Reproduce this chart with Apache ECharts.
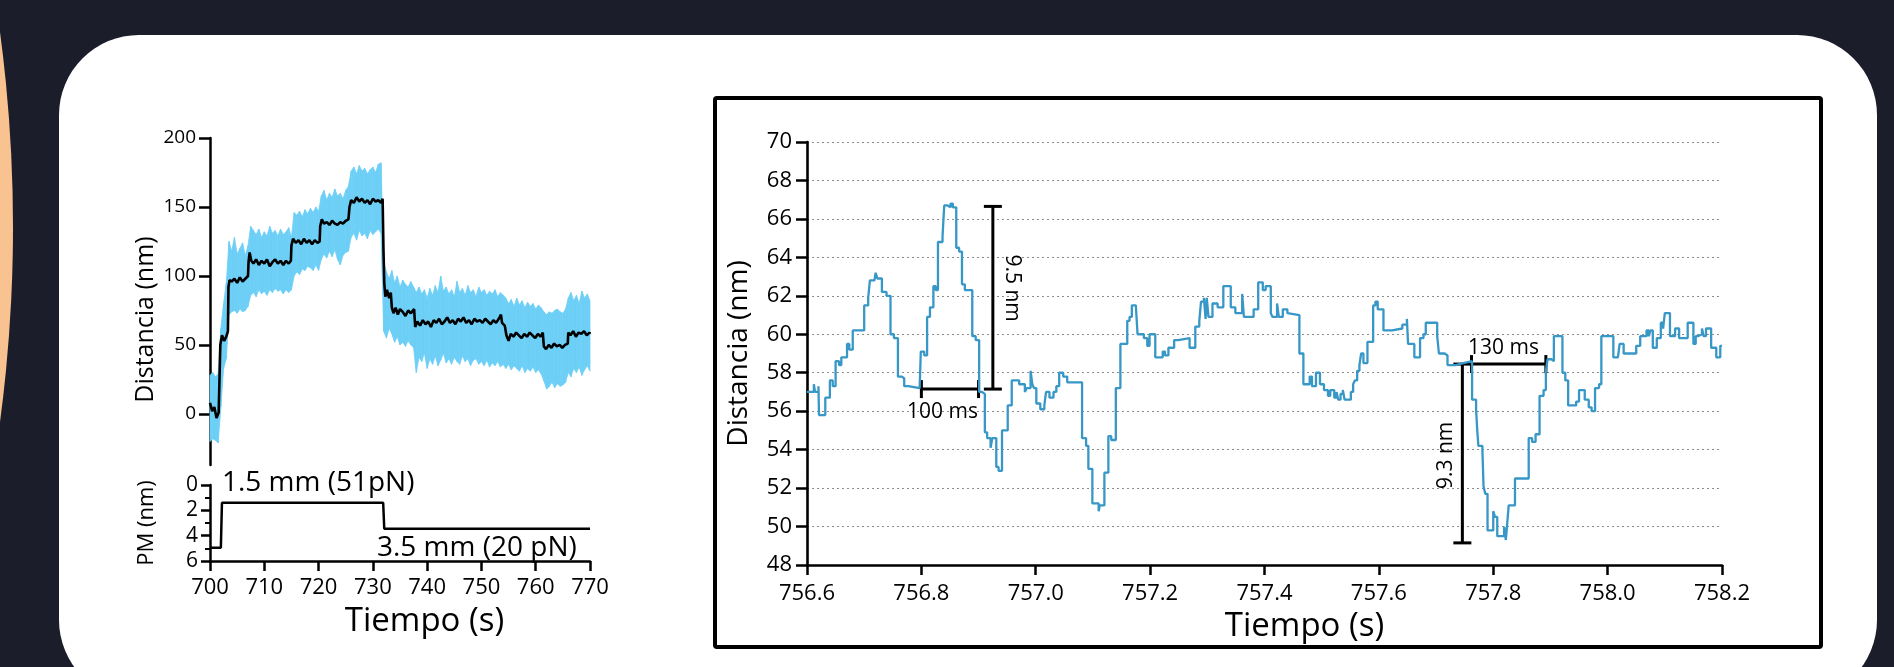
<!DOCTYPE html>
<html>
<head>
<meta charset="utf-8">
<script src="https://cdn.jsdelivr.net/npm/echarts@6/dist/echarts.min.js"></script>
<style>
  html, body { margin: 0; padding: 0; width: 1894px; height: 667px; overflow: hidden; background: #1b1e2a; }
  #glow { position: absolute; left: -2925px; top: -1242px; width: 2938px; height: 2938px; border-radius: 50%; background: #f8c291; }
  #card { position: absolute; left: 59px; top: 35px; width: 1818px; height: 665px; border-radius: 80px; background: #ffffff; }
  #chart { position: absolute; left: 0; top: 0; width: 1894px; height: 667px; }
</style>
</head>
<body>
<div id="glow"></div>
<div id="card"></div>
<div id="chart"></div>
<script>
// ---------- Overview trace (700–770 s) ----------
// Raw signal envelope (light blue band)
const bandTime = [
  700, 700.5, 701, 701.5, 702, 702.5, 703, 703.5, 704, 704.5, 705, 705.5, 706, 706.5, 707, 707.5,
  708, 708.5, 709, 709.5, 710, 710.5, 711, 711.5, 712, 712.5, 713, 713.5, 714, 714.5, 715, 715.5,
  716, 716.5, 717, 717.5, 718, 718.5, 719, 719.5, 720, 720.5, 721, 721.5, 722, 722.5, 723, 723.5,
  724, 724.5, 725, 725.5, 726, 726.5, 727, 727.5, 728, 728.5, 729, 729.5, 730, 730.5, 731, 731.5,
  732, 732.5, 733, 733.5, 734, 734.5, 735, 735.5, 736, 736.5, 737, 737.5, 738, 738.5, 739, 739.5,
  740, 740.5, 741, 741.5, 742, 742.5, 743, 743.5, 744, 744.5, 745, 745.5, 746, 746.5, 747, 747.5,
  748, 748.5, 749, 749.5, 750, 750.5, 751, 751.5, 752, 752.5, 753, 753.5, 754, 754.5, 755, 755.5,
  756, 756.5, 757, 757.5, 758, 758.5, 759, 759.5, 760, 760.5, 761, 761.5, 762, 762.5, 763, 763.5,
  764, 764.5, 765, 765.5, 766, 766.5, 767, 767.5, 768, 768.5, 769, 769.5, 770
];
const bandUpper = [
  28, 30, 27, 29, 62, 80, 95, 125, 118, 128, 116, 120, 124, 115, 122, 136,
  133, 130, 134, 128, 132, 129, 136, 131, 133, 129, 134, 130, 132, 135, 128, 146,
  144, 147, 143, 148, 145, 149, 146, 150, 147, 158, 162, 155, 160, 157, 163, 158,
  160, 156, 162, 165, 176, 179, 174, 180, 176, 178, 174, 177, 179, 175, 181, 182,
  110, 103, 98, 104, 95, 100, 92, 97, 94, 92, 96, 92, 88, 92, 87, 90,
  84, 91, 86, 93, 88, 100, 89, 92, 87, 90, 85, 96, 88, 91, 86, 93,
  88, 90, 85, 92, 88, 90, 86, 89, 87, 90, 85, 88, 86, 84, 80, 83,
  78, 84, 79, 82, 77, 81, 78, 80, 76, 79, 77, 74, 72, 74, 73, 75,
  76, 74, 73, 76, 84, 88, 82, 86, 80, 89, 84, 87, 82
];
const bandLower = [
  -20, -18, -19, -21, 5, 33, 40, 72, 74, 75, 73, 76, 74, 75, 78, 86,
  88, 85, 90, 87, 89, 86, 90, 88, 91, 89, 90, 87, 90, 88, 90, 100,
  103, 101, 105, 104, 107, 106, 104, 108, 104, 112, 116, 113, 118, 114, 119, 112,
  108, 115, 117, 118, 128, 131, 126, 133, 129, 131, 127, 133, 130, 132, 134, 131,
  60, 55, 62, 58, 52, 56, 50, 52, 49, 53, 50, 48, 30, 41, 38, 44,
  33, 40, 36, 42, 35, 39, 44, 37, 40, 36, 41, 38, 36, 42, 38, 40,
  35, 39, 40, 36, 38, 35, 39, 34, 37, 35, 38, 34, 36, 33, 36, 32,
  35, 33, 31, 35, 30, 33, 31, 34, 30, 32, 29, 24, 18, 20, 23, 19,
  22, 20, 21, 23, 30, 27, 33, 30, 34, 28, 32, 35, 31
];

// Filtered distance (black trace)
const meanTime = [
  700.0, 700.4, 700.8, 701.2, 701.6, 701.8, 701.9, 702.2, 702.6, 703.0, 703.3, 703.4, 703.6, 704.0, 704.5, 705.0,
  705.5, 706.0, 706.5, 707.0, 707.1, 707.3, 707.6, 708.0, 708.5, 709.0, 709.5, 710.0, 710.5, 711.0, 711.5, 712.0,
  712.5, 713.0, 713.5, 714.0, 714.5, 714.9, 715.0, 715.3, 715.8, 716.3, 716.8, 717.3, 717.8, 718.3, 718.8, 719.3,
  719.8, 720.2, 720.3, 720.6, 721.0, 721.5, 722.0, 722.5, 723.0, 723.5, 724.0, 724.5, 725.0, 725.5, 725.7, 726.0,
  726.5, 727.0, 727.5, 728.0, 728.5, 729.0, 729.5, 730.0, 730.5, 731.0, 731.5, 731.8, 731.95, 732.1, 732.3, 732.6,
  733.0, 733.3, 733.5, 733.8, 734.2, 734.6, 735.0, 735.5, 736.0, 736.5, 737.0, 737.6, 737.8, 738.2, 738.7, 739.2,
  739.7, 740.2, 740.7, 741.2, 741.7, 742.2, 742.7, 743.2, 743.7, 744.2, 744.7, 745.2, 745.7, 746.2, 746.7, 747.2,
  747.7, 748.2, 748.7, 749.2, 749.7, 750.2, 750.7, 751.2, 751.7, 752.2, 752.7, 753.2, 753.6, 753.8, 754.3, 754.6,
  755.0, 755.4, 755.9, 756.4, 756.9, 757.4, 757.9, 758.4, 758.9, 759.4, 759.9, 760.4, 760.9, 761.3, 761.5, 761.9,
  762.4, 762.9, 763.4, 763.9, 764.4, 764.9, 765.4, 765.9, 766.0, 766.4, 766.9, 767.4, 767.9, 768.4, 768.9, 769.4,
  769.9, 770.0
];
const meanValue = [
  8, 2, 5, -3, 1, 2, 50, 57, 53, 56, 60, 92, 97, 96, 98, 95,
  99, 96, 98, 100, 110, 117, 111, 109, 112, 108, 111, 109, 112, 107, 110, 112,
  109, 111, 108, 111, 109, 111, 122, 127, 124, 126, 123, 127, 124, 126, 123, 126,
  124, 125, 136, 141, 138, 139, 137, 140, 138, 137, 139, 138, 140, 141, 150, 155,
  153, 157, 154, 156, 153, 155, 152, 156, 154, 155, 153, 156, 120, 95, 85, 90,
  84, 88, 77, 73, 77, 72, 76, 74, 71, 75, 73, 76, 63, 67, 64, 68,
  65, 67, 63, 68, 66, 69, 65, 67, 70, 66, 68, 65, 69, 67, 70, 66,
  68, 65, 69, 67, 68, 66, 69, 67, 65, 68, 66, 69, 72, 66, 64, 57,
  53, 58, 56, 59, 57, 55, 58, 56, 59, 57, 55, 58, 56, 59, 49, 47,
  50, 48, 51, 49, 50, 48, 50, 51, 59, 57, 60, 56, 59, 58, 60, 57,
  59, 58
];

// Magnet position trace
const pmTime = [700, 702.0, 702.2, 731.9, 732.1, 770];
const pmValue = [4.95, 4.95, 1.4, 1.4, 3.45, 3.45];
const pmNotes = [
  { t: 702.2, v: -0.15, text: '1.5 mm (51pN)' },
  { t: 730.75, v: 4.95, text: '3.5 mm (20 pN)' }
];

// Upper panel tick values
const overviewTicks = [0, 50, 100, 150, 200];

// ---------- Zoomed trace (756.6–758.2 s) ----------
const detailTime = [
  756.600, 756.612, 756.614, 756.620, 756.621, 756.632, 756.640, 756.645, 756.650, 756.656, 756.660, 756.670, 756.674, 756.680, 756.700, 756.707,
  756.710, 756.718, 756.720, 756.723, 756.731, 756.739, 756.746, 756.752, 756.759, 756.766, 756.770, 756.777, 756.797, 756.799, 756.805, 756.810,
  756.815, 756.821, 756.825, 756.829, 756.837, 756.840, 756.846, 756.851, 756.855, 756.861, 756.866, 756.871, 756.876, 756.889, 756.895, 756.901,
  756.906, 756.911, 756.915, 756.921, 756.924, 756.931, 756.935, 756.941, 756.951, 756.958, 756.971, 756.981, 756.984, 756.991, 756.994, 756.997,
  757.001, 757.008, 757.015, 757.018, 757.024, 757.031, 757.036, 757.041, 757.048, 757.055, 757.081, 757.088, 757.092, 757.099, 757.110, 757.112,
  757.120, 757.127, 757.132, 757.140, 757.148, 757.160, 757.164, 757.168, 757.175, 757.178, 757.189, 757.195, 757.199, 757.209, 757.222, 757.226,
  757.232, 757.242, 757.249, 757.269, 757.279, 757.286, 757.289, 757.294, 757.297, 757.299, 757.302, 757.309, 757.318, 757.328, 757.341, 757.349,
  757.361, 757.364, 757.381, 757.389, 757.397, 757.402, 757.411, 757.414, 757.422, 757.425, 757.432, 757.440, 757.443, 757.461, 757.468, 757.479,
  757.483, 757.490, 757.497, 757.504, 757.511, 757.515, 757.522, 757.526, 757.529, 757.533, 757.537, 757.540, 757.551, 757.555, 757.558, 757.562,
  757.566, 757.569, 757.573, 757.580, 757.590, 757.594, 757.598, 757.608, 757.623, 757.641, 757.649, 757.651, 757.662, 757.672, 757.678, 757.682,
  757.702, 757.705, 757.715, 757.720, 757.734, 757.748, 757.763, 757.770, 757.772, 757.774, 757.781, 757.783, 757.786, 757.790, 757.800, 757.803,
  757.807, 757.819, 757.822, 757.824, 757.827, 757.838, 757.862, 757.868, 757.874, 757.881, 757.888, 757.892, 757.895, 757.902, 757.906, 757.921,
  757.926, 757.931, 757.945, 757.950, 757.960, 757.967, 757.972, 757.978, 757.985, 757.989, 758.010, 758.018, 758.021, 758.028, 758.050, 758.057,
  758.068, 758.072, 758.075, 758.079, 758.086, 758.093, 758.097, 758.100, 758.109, 758.118, 758.125, 758.140, 758.150, 758.154, 758.158, 758.165,
  758.168, 758.172, 758.181, 758.190, 758.197, 758.200
];
const detailValue = [
  57.0, 57.4, 57.0, 57.3, 55.8, 56.7, 57.6, 57.3, 58.6, 58.4, 58.8, 59.5, 59.2, 60.2, 61.5, 61.9,
  62.8, 62.9, 63.2, 62.9, 62.2, 62.0, 60.0, 59.8, 57.8, 57.7, 57.3, 57.2, 57.3, 59.1, 58.9, 60.9,
  61.4, 62.5, 62.3, 64.8, 65.1, 66.7, 66.6, 66.8, 66.6, 64.5, 64.3, 62.6, 62.3, 59.9, 59.7, 57.0,
  56.9, 54.9, 54.6, 54.1, 54.6, 53.1, 52.9, 55.0, 56.3, 57.6, 57.4, 57.0, 57.2, 58.1, 57.4, 57.2,
  56.4, 56.1, 56.3, 57.0, 56.7, 57.0, 57.3, 58.0, 57.8, 57.5, 54.6, 54.2, 53.0, 51.2, 50.8, 51.1,
  52.8, 54.7, 54.5, 57.2, 59.5, 60.7, 60.9, 61.5, 61.4, 60.0, 59.8, 59.4, 60.0, 58.8, 59.1, 58.9,
  59.3, 59.7, 59.8, 59.3, 60.4, 60.7, 61.7, 61.9, 60.8, 61.9, 60.9, 61.6, 61.4, 62.5, 61.4, 61.1,
  62.1, 60.9, 61.3, 62.7, 62.3, 62.5, 61.1, 60.9, 61.6, 60.9, 61.3, 61.1, 61.0, 59.0, 57.4, 57.8,
  57.3, 58.0, 57.4, 57.1, 56.8, 57.1, 56.7, 57.0, 56.6, 56.9, 57.1, 56.6, 57.0, 57.4, 57.6, 58.1,
  58.4, 59.0, 58.5, 59.6, 61.5, 61.7, 61.3, 60.2, 60.3, 60.5, 60.8, 59.5, 58.8, 59.8, 60.0, 60.6,
  59.9, 59.0, 58.9, 58.4, 58.5, 58.6, 56.6, 56.1, 55.0, 54.2, 54.0, 52.1, 51.7, 49.8, 50.8, 50.5,
  49.5, 50.0, 49.3, 50.0, 51.1, 52.5, 54.6, 54.4, 54.8, 56.8, 57.1, 58.1, 58.7, 58.6, 59.9, 58.0,
  57.6, 56.3, 56.5, 57.1, 56.6, 56.2, 56.0, 57.2, 57.4, 59.9, 58.8, 58.7, 59.5, 59.0, 59.4, 59.9,
  60.2, 59.9, 60.2, 59.3, 59.8, 60.6, 60.3, 61.1, 59.9, 60.3, 59.8, 60.6, 59.5, 59.9, 60.0, 60.3,
  59.9, 60.3, 59.3, 58.8, 59.4, 59.4
];

// Scale bars (data coordinates) and their captions
const scaleBars = [
  [756.925, 57.15, 756.925, 66.65],   // 9.5 nm
  [756.800, 57.15, 756.900, 57.15],   // 100 ms
  [757.762, 58.45, 757.892, 58.45],   // 130 ms
  [757.746, 49.15, 757.746, 58.45]    // 9.3 nm
];
const barCaptions = [
  { t: 756.958, v: 62.4, text: '9.5 nm', turn: -90 },
  { t: 756.837, v: 55.95, text: '100 ms', turn: 0 },
  { t: 757.818, v: 59.3, text: '130 ms', turn: 0 },
  { t: 757.717, v: 53.7, text: '9.3 nm', turn: 90 }
];

// ---------- Chart ----------
const FONT = "'Open Sans', 'Noto Sans', sans-serif";
const INK = '#000000';
const RAW_BLUE = '#6dcff6';
const TRACE_BLUE = '#3797c6';

const chart = echarts.init(document.getElementById('chart'), null, { renderer: 'canvas' });

function axisText(size) {
  return { color: INK, fontSize: size, fontFamily: FONT };
}

// Band between the lower and upper envelope, drawn one slice per sample interval
function renderBand(params, api) {
  const i = params.dataIndex;
  if (i >= bandTime.length - 1) return null;
  const p0 = api.coord([api.value(0), api.value(2)]);
  const p1 = api.coord([bandTime[i + 1], bandUpper[i + 1]]);
  const p2 = api.coord([bandTime[i + 1], bandLower[i + 1]]);
  const p3 = api.coord([api.value(0), api.value(1)]);
  return {
    type: 'polygon',
    shape: { points: [p0, p1, p2, p3] },
    style: { fill: RAW_BLUE, stroke: RAW_BLUE, lineWidth: 0.8 }
  };
}

const option = {
  animation: false,
  backgroundColor: 'transparent',
  grid: [
    { left: 210, top: 138, width: 380, height: 327, outerBoundsMode: 'none' },
    { left: 210, top: 485, width: 380, height: 76, outerBoundsMode: 'none' },
    { left: 807, top: 142, width: 915, height: 423, outerBoundsMode: 'none' }
  ],
  xAxis: [
    { gridIndex: 0, type: 'value', min: 700, max: 770, show: false },
    {
      gridIndex: 1, type: 'value', min: 700, max: 770, interval: 10,
      axisLine: { onZero: false, lineStyle: { color: INK, width: 2.5 } },
      axisTick: { length: 10, lineStyle: { color: INK, width: 2.5 } },
      axisLabel: Object.assign(axisText(22), { margin: 16 }),
      splitLine: { show: false },
      name: 'Tiempo (s)', nameLocation: 'middle', nameGap: 44,
      nameTextStyle: Object.assign(axisText(33), { padding: [0, 0, 0, 49] })
    },
    {
      gridIndex: 2, type: 'value', min: 756.6, max: 758.2, interval: 0.2,
      axisLine: { onZero: false, lineStyle: { color: INK, width: 2.6 } },
      axisTick: { length: 10, lineStyle: { color: INK, width: 2.5 } },
      axisLabel: Object.assign(axisText(22), { margin: 18, formatter: v => v.toFixed(1) }),
      splitLine: { show: false },
      name: 'Tiempo (s)', nameLocation: 'middle', nameGap: 40,
      nameTextStyle: Object.assign(axisText(33), { padding: [0, 0, 0, 80] })
    }
  ],
  yAxis: [
    {
      gridIndex: 0, type: 'value', min: -37, max: 200,
      axisLine: { show: true, onZero: false, lineStyle: { color: INK, width: 2.5 } },
      axisTick: { show: true, length: 11, customValues: overviewTicks, lineStyle: { color: INK, width: 2.5 } },
      axisLabel: Object.assign(axisText(19), { margin: 14, customValues: overviewTicks }),
      splitLine: { show: false },
      name: 'Distancia (nm)', nameLocation: 'middle', nameGap: 52,
      nameTextStyle: Object.assign(axisText(25), { padding: [0, 36, 0, 0] })
    },
    {
      gridIndex: 1, type: 'value', min: 0, max: 6, interval: 2, inverse: true,
      axisLine: { show: true, onZero: false, lineStyle: { color: INK, width: 2.5 } },
      axisTick: { show: true, length: 9, lineStyle: { color: INK, width: 2.5 } },
      minorTick: { show: true, splitNumber: 2, length: 5, lineStyle: { color: INK, width: 2 } },
      axisLabel: Object.assign(axisText(21), { margin: 12 }),
      splitLine: { show: false },
      name: 'PM (nm)', nameLocation: 'middle', nameGap: 52,
      nameTextStyle: axisText(22)
    },
    {
      gridIndex: 2, type: 'value', min: 48, max: 70, interval: 2,
      axisLine: { show: true, onZero: false, lineStyle: { color: INK, width: 2.6 } },
      axisTick: { show: true, length: 11, lineStyle: { color: INK, width: 2.5 } },
      axisLabel: Object.assign(axisText(22), { margin: 15 }),
      splitLine: { show: true, lineStyle: { color: '#8c8c8c', width: 1.2, type: [2, 3] } },
      name: 'Distancia (nm)', nameLocation: 'middle', nameGap: 54,
      nameTextStyle: axisText(28)
    }
  ],
  graphic: [
    {
      type: 'rect', z: 0, silent: true,
      shape: { x: 715, y: 98, width: 1106, height: 549, r: 2 },
      style: { fill: null, stroke: INK, lineWidth: 4 }
    }
  ],
  series: [
    {
      name: 'envelope', type: 'custom', xAxisIndex: 0, yAxisIndex: 0,
      silent: true, clip: false, z: 1,
      data: bandTime.map((t, i) => [t, bandLower[i], bandUpper[i]]),
      encode: { x: 0, y: [1, 2] },
      renderItem: renderBand
    },
    {
      name: 'mean', type: 'line', xAxisIndex: 0, yAxisIndex: 0,
      symbol: 'none', silent: true, z: 3,
      lineStyle: { width: 2.6, color: INK },
      data: meanTime.map((t, i) => [t, meanValue[i]])
    },
    {
      name: 'pm', type: 'line', xAxisIndex: 1, yAxisIndex: 1,
      symbol: 'none', silent: true,
      lineStyle: { width: 2.5, color: INK },
      data: pmTime.map((t, i) => [t, pmValue[i]])
    },
    {
      name: 'pm-notes', type: 'custom', xAxisIndex: 1, yAxisIndex: 1, silent: true, clip: false,
      data: pmNotes.map(n => [n.t, n.v]),
      renderItem: (params, api) => {
        const p = api.coord([api.value(0), api.value(1)]);
        return {
          type: 'text', x: p[0], y: p[1],
          style: {
            text: pmNotes[params.dataIndex].text, fill: INK,
            fontSize: 28, fontFamily: FONT, align: 'left', verticalAlign: 'middle'
          }
        };
      }
    },
    {
      name: 'detail', type: 'line', xAxisIndex: 2, yAxisIndex: 2,
      step: 'end', symbol: 'none', silent: true,
      lineStyle: { width: 2.3, color: TRACE_BLUE },
      data: detailTime.map((t, i) => [t, detailValue[i]])
    },
    {
      name: 'scale-bars', type: 'custom', xAxisIndex: 2, yAxisIndex: 2, silent: true, clip: false,
      data: scaleBars,
      renderItem: (params, api) => {
        const a = api.coord([api.value(0), api.value(1)]);
        const b = api.coord([api.value(2), api.value(3)]);
        const cap = 9;
        const vertical = Math.abs(a[0] - b[0]) < Math.abs(a[1] - b[1]);
        const style = { stroke: INK, lineWidth: 3 };
        const seg = (x1, y1, x2, y2) => ({ type: 'line', shape: { x1, y1, x2, y2 }, style });
        const caps = vertical
          ? [seg(a[0] - cap, a[1], a[0] + cap, a[1]), seg(b[0] - cap, b[1], b[0] + cap, b[1])]
          : [seg(a[0], a[1] - cap, a[0], a[1] + cap), seg(b[0], b[1] - cap, b[0], b[1] + cap)];
        return { type: 'group', children: [seg(a[0], a[1], b[0], b[1])].concat(caps) };
      }
    },
    {
      name: 'bar-captions', type: 'custom', xAxisIndex: 2, yAxisIndex: 2, silent: true, clip: false,
      data: barCaptions.map(c => [c.t, c.v]),
      renderItem: (params, api) => {
        const c = barCaptions[params.dataIndex];
        const p = api.coord([api.value(0), api.value(1)]);
        return {
          type: 'text', x: p[0], y: p[1], rotation: c.turn * Math.PI / 180,
          style: {
            text: c.text, fill: INK, fontSize: 21, fontFamily: FONT,
            align: 'center', verticalAlign: 'middle'
          }
        };
      }
    }
  ]
};

chart.setOption(option);
</script>
</body>
</html>
